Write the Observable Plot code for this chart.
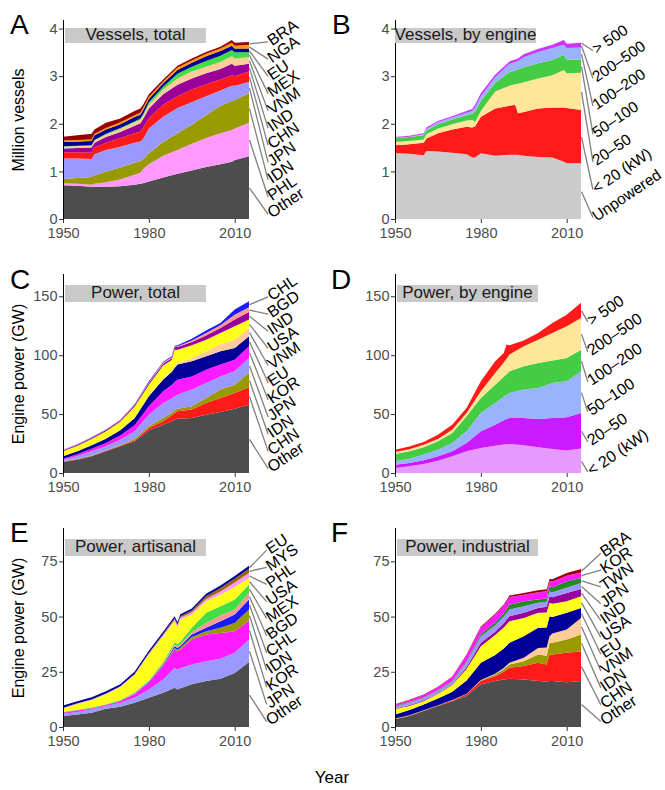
<!DOCTYPE html>
<html><head><meta charset="utf-8">
<script src="https://cdn.jsdelivr.net/npm/d3@7"></script>
<script src="https://cdn.jsdelivr.net/npm/@observablehq/plot@0.6"></script>
<style>
body{margin:0;background:#fff;font-family:"Liberation Sans",Arial,Helvetica,sans-serif;}
#wrap{position:relative;width:665px;height:790px;overflow:hidden;background:#fff;}
.panel{position:absolute;}
.panel svg{overflow:visible;}
.tag{position:absolute;font-size:28px;line-height:28px;color:#000;}
.box{position:absolute;background:#c9c9c9;font-size:17px;color:#1a1a1a;text-align:center;white-space:nowrap;width:141px;}
.box span{position:relative;display:inline-block;margin:0 -20px;}
.ytitle{position:absolute;font-size:16px;line-height:16px;white-space:nowrap;color:#000;transform:translate(-50%,-50%) rotate(-90deg);}
.xtitle{position:absolute;font-size:17px;line-height:17px;color:#000;transform:translate(-50%,-50%);}
</style></head><body><div id="wrap"></div>
<script>
// ---------- DATA ----------
// Panel A: vessels by country (million), bottom-up stacking order
const aYears = [1950,1955,1960,1961,1965,1970,1975,1977,1978,1980,1985,1990,1995,2000,2005,2009,2010,2015];
const aSeries = ["Other","PHL","IDN","JPN","CHN","IND","VNM","MEX","EU","NGA","BRA"];
const aValues = [
  [0.71,0.70,0.68,0.68,0.68,0.69,0.72,0.74,0.75,0.79,0.87,0.95,1.02,1.09,1.15,1.20,1.24,1.32],
  [0.04,0.04,0.04,0.06,0.09,0.14,0.21,0.23,0.30,0.36,0.46,0.50,0.56,0.61,0.65,0.67,0.66,0.70],
  [0.09,0.12,0.16,0.18,0.23,0.25,0.25,0.25,0.20,0.23,0.29,0.35,0.40,0.48,0.58,0.61,0.60,0.62],
  [0.43,0.41,0.38,0.44,0.45,0.44,0.42,0.41,0.43,0.52,0.53,0.53,0.47,0.40,0.32,0.32,0.30,0.24],
  [0.13,0.13,0.14,0.14,0.15,0.18,0.20,0.21,0.24,0.22,0.25,0.25,0.27,0.25,0.23,0.22,0.20,0.22],
  [0.08,0.09,0.10,0.10,0.12,0.13,0.16,0.17,0.18,0.20,0.22,0.24,0.23,0.23,0.22,0.24,0.22,0.16],
  [0.04,0.04,0.04,0.05,0.05,0.06,0.07,0.07,0.07,0.08,0.10,0.13,0.15,0.14,0.15,0.16,0.15,0.14],
  [0.01,0.01,0.01,0.01,0.02,0.02,0.02,0.03,0.03,0.05,0.06,0.10,0.10,0.12,0.13,0.13,0.13,0.10],
  [0.09,0.09,0.09,0.10,0.09,0.08,0.09,0.08,0.09,0.07,0.07,0.08,0.08,0.10,0.10,0.09,0.08,0.08],
  [0.03,0.03,0.03,0.03,0.03,0.04,0.04,0.04,0.04,0.04,0.04,0.05,0.05,0.05,0.05,0.06,0.06,0.08],
  [0.08,0.10,0.12,0.09,0.11,0.08,0.09,0.09,0.07,0.06,0.04,0.04,0.04,0.04,0.04,0.06,0.06,0.06]
];
// Panel B: vessels by engine class (million)
const bYears = [1950,1955,1960,1961,1965,1970,1975,1977,1978,1980,1985,1990,1992,1993,1995,2000,2005,2009,2010,2015];
const bSeries = ["Unpowered","< 20 (kW)","20–50","50–100","100–200","200–500","> 500"];
const bValues = [
  [1.38,1.37,1.34,1.43,1.42,1.39,1.36,1.29,1.29,1.38,1.33,1.35,1.35,1.35,1.33,1.30,1.29,1.20,1.17,1.17],
  [0.17,0.20,0.26,0.26,0.38,0.49,0.58,0.63,0.66,0.77,0.99,1.03,1.05,0.87,0.92,1.02,1.05,1.14,1.16,1.12],
  [0.07,0.07,0.07,0.09,0.10,0.11,0.13,0.16,0.09,0.12,0.36,0.42,0.43,0.62,0.62,0.63,0.68,0.79,0.73,0.78],
  [0.08,0.08,0.09,0.08,0.09,0.10,0.11,0.13,0.22,0.21,0.18,0.28,0.29,0.30,0.32,0.32,0.32,0.32,0.28,0.28],
  [0.005,0.01,0.02,0.03,0.04,0.04,0.05,0.06,0.08,0.10,0.12,0.18,0.18,0.18,0.21,0.24,0.25,0.21,0.25,0.25],
  [0.015,0.02,0.02,0.03,0.03,0.03,0.04,0.04,0.06,0.06,0.05,0.05,0.05,0.05,0.06,0.06,0.07,0.10,0.09,0.10],
  [0.004,0.004,0.004,0.004,0.004,0.004,0.004,0.004,0.004,0.004,0.004,0.004,0.004,0.004,0.004,0.004,0.004,0.004,0.004,0.004]
];
// Panel C: engine power by country (GW)
const cYears = [1950,1955,1960,1965,1970,1975,1980,1985,1988,1989,1990,1995,2000,2005,2010,2015];
const cSeries = ["Other","CHN","IDN","JPN","KOR","EU","VNM","USA","IND","BGD","CHL"];
const cValues = [
  [9.3,11.3,14.2,18.4,22.6,26.9,36.2,41,44,45,46,46.7,49.5,51.8,54.6,58],
  [0.3,0.3,0.3,0.4,0.6,0.8,2.0,2.9,5,6,6.4,7.1,9.9,11.9,13.3,14.7],
  [0.3,0.3,0.3,0.4,0.6,1.2,1.4,2.8,2.2,2.2,2.2,2.8,4.3,7.1,7.1,12.3],
  [1.4,2.6,3.7,3.4,4.5,6.5,9.9,12.7,12,12,11.9,14.2,12.7,11.2,11.3,12.6],
  [0.9,1.5,2.0,2.8,3.5,5.1,7.1,9.9,11.5,12,12.7,11.2,11.3,10,9.9,10],
  [2,2.4,3,3.6,4.5,6,8.5,10,11,12,12.8,12.8,11.3,11.3,9.9,8.4],
  [0.2,0.2,0.3,0.4,0.5,0.8,0.9,1,1.2,1.4,1.4,2.3,4.3,5.7,7.1,7.1],
  [4,4.5,5,6,6.7,9,9,11,9,14,11.3,11.3,9.9,9.9,11.3,7.1],
  [0.8,0.8,0.9,1,1.1,1.2,1.4,1.4,1.4,2.3,2.3,2.8,3.4,4.2,5.7,6.5],
  [0.3,0.3,0.3,0.3,0.3,0.4,0.6,1,1,0.6,0.6,1.2,2.3,2.2,4.2,4],
  [0.3,0.3,0.3,0.3,0.3,0.5,0.8,0.8,0.8,0.6,0.8,1.5,2,2.1,4.3,5.1]
];
// Panel D: engine power by engine class (GW)
const dYears = [1950,1955,1960,1965,1970,1975,1980,1985,1988,1989,1990,1995,2000,2005,2010,2015];
const dSeries = ["< 20 (kW)","20–50","50–100","100–200","200–500","> 500"];
const dValues = [
  [4.2,5.7,7.6,10.5,14.2,18.4,21.2,23.2,24.2,24.4,24.6,23.5,21.8,20.4,19,20.7],
  [2.9,2.8,3.2,3.7,4.2,7.1,14.2,17.8,20.5,21.5,22.1,23.2,24.1,26.3,28.3,30.3],
  [2.8,3.7,4.8,5.6,7.1,9.9,15.6,18.4,20,20.5,21.2,24.1,26.3,29.7,30.5,35.3],
  [6.2,6.2,6.2,7.1,8.5,12.7,12.7,15.6,17,17.5,18.4,19.8,21.2,19,19.8,18.4],
  [1.7,1.8,2.2,2.0,2.8,2.9,5.6,9.9,12,13,14.2,17,19.8,23.5,26.9,26.9],
  [2,2.2,2.3,3.6,4.2,4.2,8.5,9.9,8.2,12.1,7.9,4.8,5.7,8.5,9.9,12.8]
];
// Panel E: artisanal engine power by country (GW)
const eYears = [1950,1955,1960,1965,1970,1975,1980,1985,1989,1990,1991,1995,2000,2005,2010,2015];
const eSeries = ["Other","JPN","KOR","IDN","CHL","BGD","MEX","USA","PHL","MYS","EU"];
const eValues = [
  [5,5.7,6.5,8.3,9.2,11,13.3,15.5,17.8,17,17.6,19.3,20.8,21.8,24.5,29.4],
  [1,1.1,1.5,1.2,1.8,2.3,3.7,6,9,9,9,9,9,9.1,9.1,10.2],
  [0.5,0.6,0.4,0.4,0.7,1.5,3,6.1,8.3,8.3,8.5,11.3,12.1,11.7,9.8,8.6],
  [0.1,0.1,0.1,0.1,0.1,0.2,0.2,0.3,0.7,0.7,0.8,1.2,1.5,2.3,3.7,5],
  [0.1,0.1,0.1,0.1,0.1,0.2,0.3,0.4,0.8,0.8,0.8,1.1,1.5,3,3.8,4.5],
  [0.1,0.1,0.1,0.1,0.1,0.2,0.3,0.5,0.7,0.7,0.7,1,2.2,2.6,2.3,3],
  [0.1,0.1,0.1,0.1,0.2,0.3,0.3,0.6,1.1,1.1,1.2,2,4.6,4.2,4.5,3.8],
  [1.5,2.6,3.4,4.5,5.8,7.8,11.7,11.7,9.5,7.6,10.1,6,5.2,5.2,5.7,3],
  [0.2,0.2,0.2,0.3,0.3,0.3,0.4,0.6,0.7,0.7,0.8,1,1.1,1.5,2,2.2],
  [0.1,0.1,0.1,0.1,0.1,0.2,0.3,0.4,0.6,0.6,0.6,0.8,1.2,1.5,1.7,2],
  [1,1,1,1,1,1,1,1,1,1,1,1,1.1,1.2,1.3,1.3]
];
// Panel F: industrial engine power by country (GW)
const fYears = [1950,1955,1960,1965,1970,1975,1980,1985,1988,1990,1995,2000,2003,2004,2005,2010,2015];
const fSeries = ["Other","CHN","IDN","VNM","EU","USA","IND","JPN","TWN","KOR","BRA"];
const fValues = [
  [3.5,5,7.2,9.5,11.7,14,19.3,20.8,21.5,21.8,21.5,20.8,20.6,20.8,20.8,20.3,20.8],
  [0.1,0.1,0.2,0.2,0.3,0.8,1.5,2.2,3.5,5,6.1,8.3,7.7,12,12,13.3,13.5],
  [0.1,0.1,0.1,0.1,0.1,0.2,0.3,0.8,1.2,1.5,2.2,3.7,4,5.3,5.3,6,7.6],
  [0.1,0.1,0.1,0.1,0.1,0.1,0.2,0.3,0.5,0.8,1.5,3,3.7,3,4.2,4.5,7.5],
  [1.9,2.4,2.6,3,3.8,5.9,7.8,8.5,8.8,9,9.8,9.1,9,9.1,7.5,7.6,4.5],
  [2.3,1.8,1.5,2,3,5.3,7.5,9,9.5,9.8,8.3,6.8,6.8,6,6,5.2,5.3],
  [0.3,0.3,0.3,0.3,0.4,0.8,1.5,1.5,2,2.3,2.3,2.2,2.6,3,3,3.8,3.3],
  [0.9,1.2,1.1,1.2,1.1,2.2,3,3,3,3,3,2.3,2.3,2.2,2.2,2.3,2.7],
  [0.3,0.3,0.3,0.3,0.4,0.5,1,1.2,1.5,2.2,2.2,1.5,1.5,2.3,2.3,3,2.3],
  [0.6,0.8,1.1,1.3,1.8,2.7,3,3.5,3.5,3.5,3,3.3,3.3,2.3,2.6,2.5,2.5],
  [0.2,0.2,0.2,0.2,0.2,0.3,0.4,0.5,0.5,0.6,0.8,0.9,0.9,1,1,1.2,1.5]
];
const xTicks = [1950,1980,2010];
const vesselTicks = [0,1,2,3,4];
const powerTicks = [0,50,100,150];
const splitTicks = [0,25,50,75];

// ---------- STYLES ----------
const countryColor = {Other:"#4d4d4d",PHL:"#ff99ff",IDN:"#999900",JPN:"#9999ff",CHN:"#ff1a1a",IND:"#990099",
  VNM:"#ffcc99",MEX:"#44dd44",EU:"#000099",NGA:"#ff9900",BRA:"#990000",KOR:"#ff1aff",USA:"#ffff1a",
  BGD:"#ff9999",CHL:"#1a1aff",TWN:"#228b22",MYS:"#996600"};
const bColors = ["#cccccc","#ff1a1a","#ffe699","#44cc44","#99b3ff","#cc33ff","#e699ff"];
const dColors = ["#e699ff","#cc1aff","#99b3ff","#44cc44","#ffe699","#ff1a1a"];
const FONT = "'Liberation Sans', Arial, Helvetica, sans-serif";

const wrap = document.getElementById("wrap");

function makePanel(cfg) {
  const {years, series, values, colors, yMax, yTicks, lab, left, top} = cfg;
  const rows = [];
  series.forEach((s, i) => years.forEach((yr, j) => rows.push({year: yr, series: s, value: values[i][j]})));
  const last = years.length - 1;
  let cum = 0;
  const n = series.length;
  const labels = series.map((s, i) => {
    const v = values[i][last];
    const mid = cum + v / 2; cum += v;
    const k = n - 1 - i;
    return {series: s, x0: years[last], ymid: mid, lx: lab.x, ylab: lab.top - k * (lab.top - lab.bottom) / (n - 1)};
  });
  const chart = Plot.plot({
    width: 332, height: 250,
    marginLeft: 63, marginRight: 83, marginTop: 19, marginBottom: 32,
    x: {domain: [years[0], years[last]]},
    y: {domain: [0, yMax]},
    color: {domain: series, range: colors},
    style: {fontFamily: FONT, overflow: "visible", background: "transparent"},
    marks: [
      Plot.areaY(rows, {x: "year", y: "value", fill: "series", order: series}),
      Plot.ruleX([years[0]], {y1: 0, y2: yMax, stroke: "#000", strokeWidth: 1}),
      Plot.axisX({ticks: xTicks, tickFormat: "d", label: null, fontSize: 14.5, tickSize: 4, tickPadding: 4, fill: "#4d4d4d", stroke: "#333"}),
      Plot.axisY({ticks: yTicks, tickFormat: "d", label: null, fontSize: 14.5, tickSize: 4, tickPadding: 2, fill: "#4d4d4d", stroke: "#333"}),
      Plot.link(labels, {x1: "x0", y1: "ymid", x2: "lx", y2: "ylab", stroke: "#808080", strokeWidth: 1.3}),
      Plot.text(labels, {x: "lx", y: "ylab", text: "series", rotate: -34, textAnchor: "start", fontSize: lab.size, fill: "#000", dx: 1})
    ]
  });
  const div = document.createElement("div");
  div.className = "panel";
  div.style.left = left + "px"; div.style.top = top + "px";
  div.appendChild(chart);
  wrap.appendChild(div);
}

const ROW = [1, 255.3, 509.3];
makePanel({years: aYears, series: aSeries, values: aValues, colors: aSeries.map(s => countryColor[s]),
  yMax: 4.18, yTicks: vesselTicks, lab: {x: 2021.5, top: 3.73, bottom: 0.11, size: 16}, left: 0, top: ROW[0]});
makePanel({years: bYears, series: bSeries, values: bValues, colors: bColors,
  yMax: 4.18, yTicks: vesselTicks, lab: {x: 2019.0, top: 3.55, bottom: 0.04, size: 15.5}, left: 332, top: ROW[0]});
makePanel({years: cYears, series: cSeries, values: cValues, colors: cSeries.map(s => countryColor[s]),
  yMax: 168.9, yTicks: powerTicks, lab: {x: 2021.5, top: 149.9, bottom: 4.2, size: 16}, left: 0, top: ROW[1]});
makePanel({years: dYears, series: dSeries, values: dValues, colors: dColors,
  yMax: 168.9, yTicks: powerTicks, lab: {x: 2017.2, top: 128.7, bottom: 1.4, size: 16}, left: 332, top: ROW[1]});
makePanel({years: eYears, series: eSeries, values: eValues, colors: eSeries.map(s => countryColor[s]),
  yMax: 90.1, yTicks: splitTicks, lab: {x: 2021.0, top: 80.3, bottom: 2.7, size: 16}, left: 0, top: ROW[2]});
makePanel({years: fYears, series: fSeries, values: fValues, colors: fSeries.map(s => countryColor[s]),
  yMax: 90.1, yTicks: splitTicks, lab: {x: 2021.75, top: 78.9, bottom: 2.7, size: 16}, left: 332, top: ROW[2]});

// ---------- ANNOTATIONS ----------
function addDiv(cls, text, css) {
  const d = document.createElement("div");
  d.className = cls;
  if (cls === "box") { const s = document.createElement("span"); s.textContent = text; d.appendChild(s); }
  else d.textContent = text;
  Object.assign(d.style, css);
  wrap.appendChild(d);
}
[["A",10,11.3],["B",332,11.3],["C",10,266.3],["D",331,266.3],["E",10,519.3],["F",331,519.3]]
  .forEach(([t,x,y]) => addDiv("tag", t, {left: x + "px", top: y + "px"}));
[["Vessels, total",65,28.3,14.4],["Vessels, by engine",395,28.3,14.4],
 ["Power, total",65,285,16.7],["Power, by engine",397,285,16.7],
 ["Power, artisanal",65,539.3,16.7],["Power, industrial",397,539.3,16.7]]
  .forEach(([t,x,y,h]) => addDiv("box", t, {left: x + "px", top: y + "px", height: h + "px", lineHeight: h + "px"}));
addDiv("ytitle", "Million vessels", {left: "19px", top: "119.5px"});
addDiv("ytitle", "Engine power (GW)", {left: "19px", top: "374px"});
addDiv("ytitle", "Engine power (GW)", {left: "19px", top: "628px"});
addDiv("xtitle", "Year", {left: "332px", top: "777px"});
</script></body></html>
